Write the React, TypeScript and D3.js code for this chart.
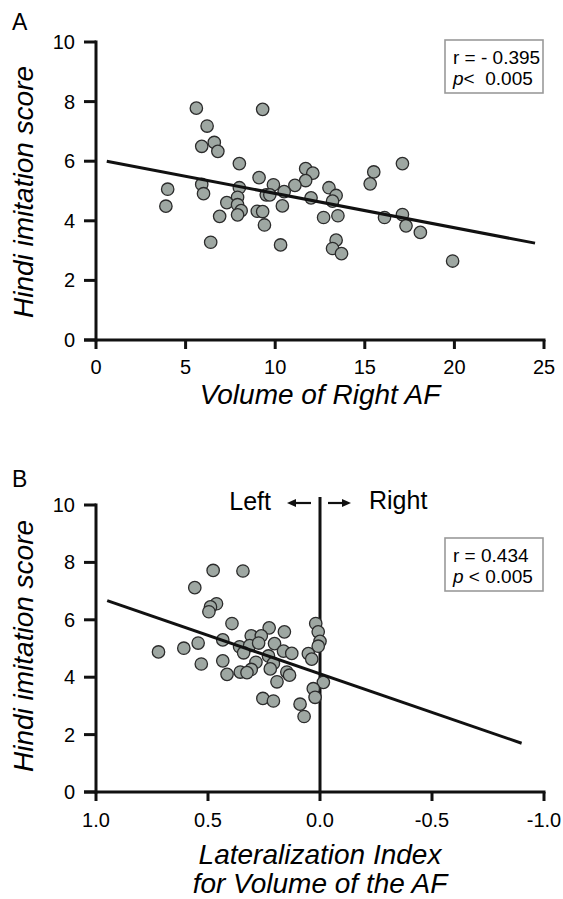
import React from "react";
import * as d3 from "d3";

// Panel A: Volume of Right AF vs Hindi imitation score
const volA = [5.6, 9.3, 6.2, 6.6, 5.9, 6.8, 8.0, 11.7, 12.1, 9.1, 11.7, 9.9, 11.1, 5.9, 4.0, 13.0, 8.0, 10.5, 6.0, 13.4, 7.9, 9.5, 9.7, 12.0, 7.3, 7.9, 3.9, 10.4, 9.0, 9.3, 8.1, 7.9, 6.9, 12.7, 13.5, 9.4, 6.4, 10.3, 13.4, 13.2, 13.7, 17.1, 15.5, 15.3, 13.2, 16.1, 17.1, 17.3, 18.1, 19.9];
const scoreA = [7.78, 7.74, 7.18, 6.63, 6.5, 6.33, 5.92, 5.75, 5.6, 5.45, 5.35, 5.21, 5.19, 5.22, 5.06, 5.11, 5.11, 4.98, 4.91, 4.85, 4.79, 4.87, 4.87, 4.77, 4.61, 4.54, 4.49, 4.5, 4.32, 4.31, 4.34, 4.2, 4.15, 4.11, 4.17, 3.86, 3.28, 3.19, 3.35, 3.07, 2.9, 5.92, 5.64, 5.24, 4.66, 4.11, 4.21, 3.83, 3.61, 2.65];
const fitAx = [0.6, 24.5];
const fitAy = [6.0, 3.25];
const xTicksA = [0, 5, 10, 15, 20, 25];

// Panel B: Lateralization index vs Hindi imitation score
const latB = [0.477, 0.344, 0.559, 0.462, 0.489, 0.496, 0.393, 0.227, 0.307, 0.262, 0.434, 0.544, 0.608, 0.359, 0.314, 0.274, 0.721, 0.341, 0.203, 0.23, 0.434, 0.286, 0.53, 0.208, 0.222, 0.307, 0.356, 0.326, 0.415, 0.192, 0.255, 0.208, 0.019, 0.008, 0.0, 0.008, 0.159, 0.163, 0.126, 0.052, 0.037, 0.148, 0.136, -0.015, 0.03, 0.022, 0.089, 0.071];
const scoreB = [7.72, 7.7, 7.12, 6.56, 6.45, 6.28, 5.87, 5.72, 5.44, 5.44, 5.3, 5.19, 5.01, 5.06, 5.1, 5.19, 4.88, 4.85, 5.17, 4.74, 4.57, 4.52, 4.46, 4.48, 4.29, 4.27, 4.18, 4.16, 4.1, 3.84, 3.26, 3.17, 5.87, 5.58, 5.25, 5.08, 5.58, 4.91, 4.83, 4.82, 4.63, 4.18, 4.07, 3.82, 3.6, 3.3, 3.06, 2.63];
const fitBx = [0.95, -0.9];
const fitBy = [6.67, 1.7];
const xTicksB = [1.0, 0.5, 0.0, -0.5, -1.0];
const xTickLabelsB = ["1.0", "0.5", "0.0", "-0.5", "-1.0"];

const yTicks = [0, 2, 4, 6, 8, 10];

const FONT = "'Liberation Sans', Arial, Helvetica, sans-serif";
const FILL = "#9ea7a2";
const STROKE = "#2b2b2b";

function Panel(props: {
  letter: string;
  letterY: number;
  xs: number[];
  ys: number[];
  xDomain: [number, number];
  yTop: number;
  yBottom: number;
  xTicks: number[];
  xLabels: string[];
  fitX: number[];
  fitY: number[];
  rLine: string;
  pLine: [string, string];
  boxY: number;
  titleLines: string[];
  titleY: number;
  tickLabelY: number;
  ylabelCenter: number;
  vertical?: boolean;
}) {
  const x = d3.scaleLinear().domain(props.xDomain).range([96, 544]);
  const y = d3.scaleLinear().domain([0, 10]).range([props.yBottom, props.yTop]);
  const line = d3
    .line<number>()
    .x((d) => x(props.fitX[d]))
    .y((d) => y(props.fitY[d]));
  return (
    <g>
      <text x={12} y={props.letterY} fontSize={23} fontFamily={FONT}>
        {props.letter}
      </text>
      {/* y axis */}
      <line x1={96} x2={96} y1={y(10) - 1.5} y2={y(0) + 1.5} stroke="#111" strokeWidth={3} />
      {yTicks.map((t) => (
        <g key={"yt" + t}>
          <line x1={84} x2={96} y1={y(t)} y2={y(t)} stroke="#111" strokeWidth={3} />
          <text x={75} y={y(t) + 7} fontSize={20} textAnchor="end" fontFamily={FONT}>
            {t}
          </text>
        </g>
      ))}
      {/* x axis */}
      <line x1={84} x2={545.5} y1={y(0)} y2={y(0)} stroke="#111" strokeWidth={3} />
      {props.xTicks.map((t, i) => (
        <g key={"xt" + i}>
          <line x1={x(t)} x2={x(t)} y1={y(0)} y2={y(0) + 9} stroke="#111" strokeWidth={3} />
          <text x={x(t)} y={props.tickLabelY} fontSize={20} textAnchor="middle" fontFamily={FONT}>
            {props.xLabels[i]}
          </text>
        </g>
      ))}
      {props.vertical && (
        <g>
          <line x1={x(0)} x2={x(0)} y1={497} y2={y(0)} stroke="#111" strokeWidth={3} />
          <text x={271} y={510} fontSize={25} textAnchor="end" fontFamily={FONT}>
            Left
          </text>
          <text x={369} y={509} fontSize={25} fontFamily={FONT}>
            Right
          </text>
          <line x1={311} x2={294} y1={503} y2={503} stroke="#111" strokeWidth={2.2} />
          <path d="M287,503 L296,499 L296,507 Z" fill="#111" />
          <line x1={328} x2={344} y1={503} y2={503} stroke="#111" strokeWidth={2.2} />
          <path d="M351,503 L342,499 L342,507 Z" fill="#111" />
        </g>
      )}
      {/* points */}
      {props.xs.map((v, i) => (
        <circle key={"p" + i} cx={x(v)} cy={y(props.ys[i])} r={6.2} fill={FILL} stroke={STROKE} strokeWidth={1.3} />
      ))}
      {/* regression line */}
      <path d={line([0, 1]) || ""} stroke="#111" strokeWidth={3} fill="none" />
      {/* stats box */}
      <rect x={445} y={props.boxY} width={98} height={53} fill="#fff" stroke="#9a9a9a" strokeWidth={1.6} />
      <text x={453} y={props.boxY + 24} fontSize={19} fontFamily={FONT}>
        {props.rLine}
      </text>
      <text x={453} y={props.boxY + 45} fontSize={19} fontFamily={FONT} xmlSpace="preserve">
        <tspan fontStyle="italic">{props.pLine[0]}</tspan>
        <tspan>{props.pLine[1]}</tspan>
      </text>
      {/* y title */}
      <text
        transform={`translate(33,${props.ylabelCenter}) rotate(-90)`}
        fontSize={28}
        fontStyle="italic"
        textAnchor="middle"
        fontFamily={FONT}
      >
        Hindi imitation score
      </text>
      {props.titleLines.map((s, i) => (
        <text
          key={"tl" + i}
          x={320}
          y={props.titleY + i * 29}
          fontSize={28}
          fontStyle="italic"
          textAnchor="middle"
          fontFamily={FONT}
        >
          {s}
        </text>
      ))}
    </g>
  );
}

export default function App() {
  return (
    <div style={{ position: "absolute", left: 0, top: 0 }}>
      <svg width={563} height={899} style={{ display: "block", background: "#fff" }}>
        <Panel
          letter="A"
          letterY={30}
          xs={volA}
          ys={scoreA}
          xDomain={[0, 25]}
          yTop={42}
          yBottom={340}
          xTicks={xTicksA}
          xLabels={xTicksA.map(String)}
          fitX={fitAx}
          fitY={fitAy}
          rLine="r = - 0.395"
          pLine={["p", "<  0.005"]}
          boxY={40}
          titleLines={["Volume of Right AF"]}
          titleY={404}
          tickLabelY={374}
          ylabelCenter={192}
        />
        <Panel
          letter="B"
          letterY={487}
          xs={latB}
          ys={scoreB}
          xDomain={[1, -1]}
          yTop={505}
          yBottom={792}
          xTicks={xTicksB}
          xLabels={xTickLabelsB}
          fitX={fitBx}
          fitY={fitBy}
          rLine="r = 0.434"
          pLine={["p", " < 0.005"]}
          boxY={538}
          titleLines={["Lateralization Index", "for Volume of the AF"]}
          titleY={864}
          tickLabelY={827}
          ylabelCenter={646}
          vertical
        />
      </svg>
    </div>
  );
}
